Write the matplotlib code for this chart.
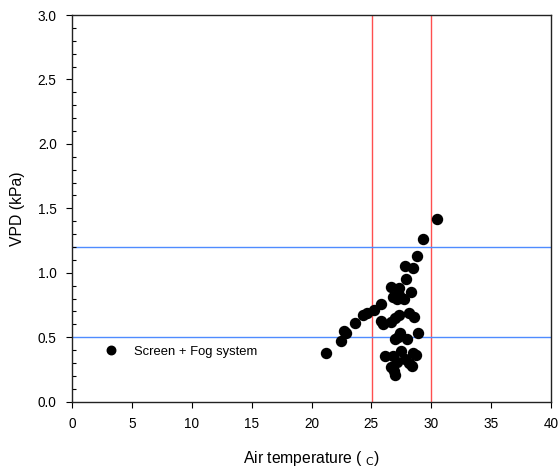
import numpy as np
import matplotlib.pyplot as plt
from matplotlib.ticker import MultipleLocator

plt.rcParams['font.family'] = ['Liberation Sans', 'DejaVu Sans']

# air temperature (C) and vapour pressure deficit (kPa)
airTemp = [21.2, 22.5, 22.7, 22.9, 23.6, 24.3, 24.6, 25.2, 25.8, 26.0,
           25.8, 26.6, 27.3, 27.9, 27.8, 28.5, 28.8, 29.35, 30.45, 28.3,
           26.8, 27.1, 27.7, 27.3, 26.6, 27.0, 27.3, 28.1, 28.6, 27.4,
           27.0, 28.0, 28.9, 27.2, 26.15, 26.8, 27.5, 27.8, 28.45, 28.7,
           26.6, 27.1, 28.1, 27.0, 28.4, 26.9]
vpd = [0.38, 0.47, 0.55, 0.53, 0.61, 0.67, 0.69, 0.71, 0.63, 0.60,
       0.755, 0.89, 0.88, 0.95, 1.05, 1.04, 1.13, 1.26, 1.42, 0.85,
       0.81, 0.80, 0.80, 0.83, 0.62, 0.65, 0.67, 0.69, 0.66, 0.53,
       0.49, 0.49, 0.535, 0.50, 0.357, 0.357, 0.39, 0.335, 0.375, 0.36,
       0.27, 0.31, 0.30, 0.21, 0.28, 0.24]

tempBounds = [25.05, 30]
vpdBounds = [0.5, 1.2]
seriesName = 'Screen + Fog system'

figure = plt.figure(figsize=(5.58, 4.70), dpi=100)
axes = figure.add_axes([0.129, 0.1453, 0.8585, 0.8227])

for t in tempBounds:
    axes.axvline(t, color='#ff4f4f', lw=1.0, zorder=1)
for v in vpdBounds:
    axes.axhline(v, color='#4f8cff', lw=1.0, zorder=1)

axes.plot(airTemp, vpd, 'o', color='black', ms=7.2, mec='black',
          label=seriesName, zorder=3)

axes.set_xlim(0, 40)
axes.set_ylim(0, 3.0)
axes.xaxis.set_major_locator(MultipleLocator(5))
axes.yaxis.set_major_locator(MultipleLocator(0.5))
axes.yaxis.set_minor_locator(MultipleLocator(0.1))
axes.yaxis.set_major_formatter('{x:.1f}')
axes.tick_params(which='major', direction='out', length=4, width=0.8,
                 labelsize=9.8, pad=7)
axes.tick_params(which='minor', axis='y', direction='in', length=3,
                 width=0.8)
for spine in axes.spines.values():
    spine.set_linewidth(1.0)
    spine.set_color('#222222')

axes.set_xlabel('Air temperature ( $_{\\mathrm{C}}$)', fontsize=11.3,
                labelpad=13)
axes.set_ylabel('VPD (kPa)', fontsize=11.3, labelpad=9)

axes.legend(loc='center left', bbox_to_anchor=(0.055, 0.13), frameon=False,
            fontsize=9.4, markerscale=0.85, handlelength=1.0,
            handletextpad=1.2, borderpad=0)

figure.savefig('out.png', dpi=100)
